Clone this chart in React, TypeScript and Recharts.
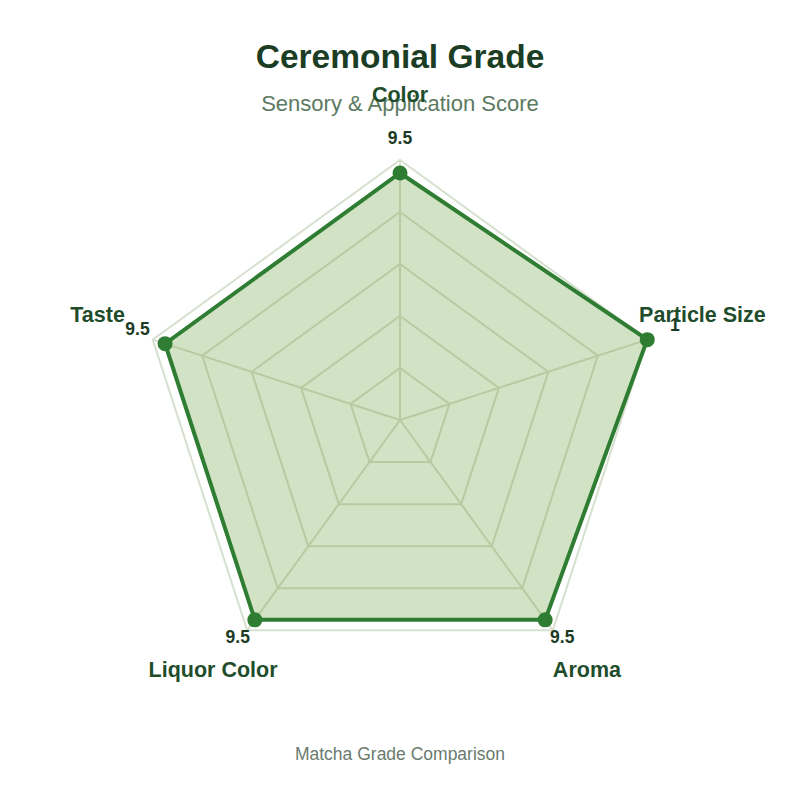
import React from "react";
import { RadarChart, Radar, PolarGrid, PolarAngleAxis, PolarRadiusAxis } from "recharts";

const categories = ["Color", "Particle Size", "Aroma", "Liquor Color", "Taste"];
const scores = [9.5, 10, 9.5, 9.5, 9.5];
const valueLabels = ["9.5", "1", "9.5", "9.5", "9.5"];
const radiusTicks = [0, 2, 4, 6, 8, 10];

const title = "Ceremonial Grade";
const subtitle = "Sensory & Application Score";
const footer = "Matcha Grade Comparison";

const data = categories.map((c, i) => ({ axis: c, score: scores[i], label: valueLabels[i] }));

const CX = 400;
const CY = 420;
const OUTER = 260;
const FONT = "'Liberation Sans', Arial, Helvetica, sans-serif";
const RAD = Math.PI / 180;

const AngleTick = (props: any) => {
  const { payload } = props;
  const ang = payload.coordinate;
  const r = 318;
  const x = CX + r * Math.cos(-ang * RAD);
  const y = CY + r * Math.sin(-ang * RAD);
  return (
    <text x={x} y={y} textAnchor="middle" fontFamily={FONT} fontSize={21.5} fontWeight="bold" fill="#1f4d2b">
      {payload.value}
    </text>
  );
};

const Dot = (props: any) => {
  const { cx, cy, index } = props;
  const dx = cx - CX;
  const dy = cy - CY;
  const len = Math.sqrt(dx * dx + dy * dy) || 1;
  const r = len + 29;
  const lx = CX + (dx / len) * r;
  const ly = CY + (dy / len) * r;
  return (
    <g key={`dot-${index}`}>
      <circle cx={cx} cy={cy} r={7.5} fill="#2e7d32" />
      <text x={lx} y={ly} textAnchor="middle" fontFamily={FONT} fontSize={17.5} fontWeight="bold" fill="#1b3a24">
        {data[index].label}
      </text>
    </g>
  );
};

export default function App() {
  return (
    <div style={{ position: "absolute", left: 0, top: 0, width: 800, height: 800, background: "#ffffff" }}>
      <RadarChart width={800} height={800} data={data} cx={CX} cy={CY} outerRadius={OUTER} margin={{ top: 0, right: 0, bottom: 0, left: 0 }}>
        <text x={400} y={68} textAnchor="middle" fontFamily={FONT} fontSize={33.5} fontWeight="bold" fill="#1b3d24">
          {title}
        </text>
        <text x={400} y={111} textAnchor="middle" fontFamily={FONT} fontSize={22} fill="#5b7a61">
          {subtitle}
        </text>
        <text x={400} y={760} textAnchor="middle" fontFamily={FONT} fontSize={17.5} fill="#6b7a6e">
          {footer}
        </text>
        <PolarGrid gridType="polygon" stroke="#d6e0cf" strokeWidth={2} />
        <PolarAngleAxis dataKey="axis" tick={<AngleTick />} tickLine={false} axisLine={false} />
        <PolarRadiusAxis domain={[0, 10]} ticks={radiusTicks as any} tickCount={6} tick={false} axisLine={false} />
        <Radar
          dataKey="score"
          stroke="#2e7d32"
          strokeWidth={4}
          fill="#6a9f3a"
          fillOpacity={0.3}
          dot={<Dot />}
          isAnimationActive={false}
        />
      </RadarChart>
    </div>
  );
}
